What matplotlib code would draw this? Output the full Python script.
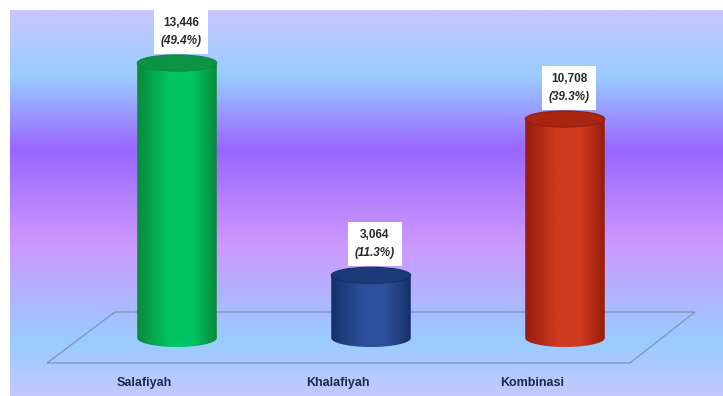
import matplotlib.pyplot as plt
import numpy as np
from matplotlib.patches import Ellipse, Polygon, PathPatch, Rectangle
from matplotlib.path import Path
from matplotlib.colors import LinearSegmentedColormap

categories = ["Salafiyah", "Khalafiyah", "Kombinasi"]
values = [13446, 3064, 10708]
percents = [49.4, 11.3, 39.3]
body_colors = [("#0a8a3c", "#00c462"), ("#15306a", "#2b5099"), ("#961c0c", "#cf3a20")]
top_colors = ["#0c9444", "#1a3a78", "#a6260f"]

W, H = 723, 396
fig = plt.figure(figsize=(W / 100, H / 100), dpi=100)
fig.patch.set_facecolor("white")

# gradient background
bg = fig.add_axes([10 / W, 0, 1 - 10 / W, 1 - 10 / H])
bg.set_axis_off()
stops = [(0.0, "#c8c8ff"), (0.17, "#99ccff"), (0.36, "#9966ff"),
         (0.61, "#cc99ff"), (0.86, "#99ccff"), (1.0, "#c4c8ff")]
bg_cmap = LinearSegmentedColormap.from_list("bg", stops)
bg.imshow(np.linspace(0, 1, 256).reshape(-1, 1), cmap=bg_cmap, aspect="auto",
          extent=[0, 1, 1, 0])
bg.set_xlim(0, 1)
bg.set_ylim(1, 0)

# main axes: x = category index, y = value
ax = fig.add_axes([0, 0, 1, 1])
ax.set_axis_off()
px_x = 194.0
px_y = 0.02045
x0, y0 = 177, 338  # pixel of category 0 / value 0
ax.set_xlim(-x0 / px_x, (W - x0) / px_x)
ax.set_ylim(-(H - y0) / px_y, y0 / px_y)
ax.patch.set_alpha(0)

def yv(p):
    return p / px_y

# floor
floor = Polygon([(-0.32, yv(26)), (2.67, yv(26)), (2.335, yv(-25)), (-0.67, yv(-25))],
                closed=True, fill=False, edgecolor="#7f93b8", lw=0.9)
ax.add_patch(floor)

bw = 0.41
eh = yv(18)
for i, (v, pc) in enumerate(zip(values, percents)):
    xl, xr = i - bw / 2, i + bw / 2
    # body path: rectangle + lower half ellipse
    t = np.linspace(np.pi, 2 * np.pi, 60)
    bottom = np.column_stack([i + bw / 2 * np.cos(t), eh / 2 * np.sin(t)])
    verts = np.vstack([[[xl, v]], bottom, [[xr, v]], [[xl, v]]])
    patch = PathPatch(Path(verts), facecolor="none", edgecolor="none")
    ax.add_patch(patch)
    dark, light = body_colors[i]
    cm = LinearSegmentedColormap.from_list("c%d" % i, [(0, dark), (0.4, light), (0.7, light), (1, dark)])
    im = ax.imshow(np.linspace(0, 1, 200).reshape(1, -1), cmap=cm, aspect="auto",
                   extent=[xl, xr, -eh, v], zorder=2)
    im.set_clip_path(patch)
    ax.add_patch(Ellipse((i, v), bw, eh * 0.9, facecolor=top_colors[i],
                         edgecolor=dark, lw=0.8, zorder=3))

    # value label: white box with number and italic percentage
    lx, ly = i + 0.02, v + yv(31)
    bwid, bhei = 54 / px_x, yv(44)
    ax.add_patch(Rectangle((lx - bwid / 2, ly - bhei / 2), bwid, bhei,
                           facecolor="white", edgecolor="none", zorder=4))
    ax.text(lx, ly + yv(9), "{:,}".format(v), ha="center", va="center",
            fontsize=8.5, fontweight="bold", color="#2a2a2a",
            family="Liberation Sans", zorder=5)
    ax.text(lx, ly - yv(9), "({:.1f}%)".format(pc), ha="center", va="center",
            fontsize=8.5, fontweight="bold", fontstyle="italic", color="#2a2a2a",
            family="Liberation Sans", zorder=5)

    ax.text(i - 0.17, yv(-45), categories[i], ha="center", va="center",
            fontsize=9, fontweight="bold", color="#1f2a4a", family="Liberation Sans")

fig.savefig("out.png", dpi=100)
